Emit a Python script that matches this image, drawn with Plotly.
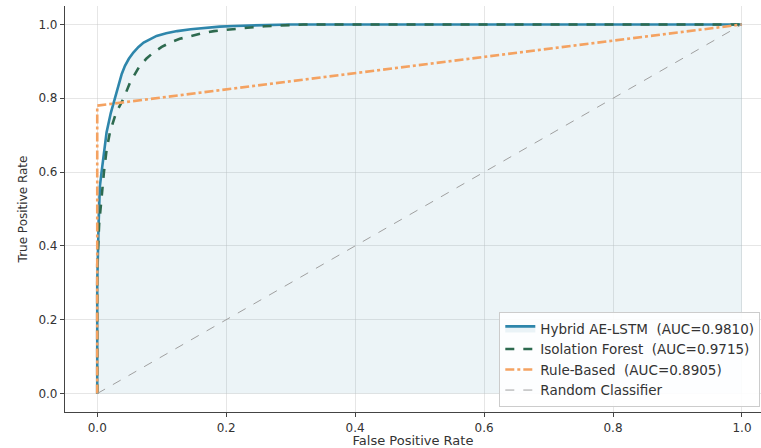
import plotly.graph_objects as go

# Hybrid AE-LSTM ROC points
hyb_fpr = [0.0, 0.0, 0.002, 0.004, 0.0067, 0.0105, 0.0145, 0.021, 0.0275, 0.034, 0.038, 0.043, 0.049, 0.056,
           0.064, 0.072, 0.082, 0.092, 0.107, 0.124, 0.145, 0.165, 0.19, 0.212, 0.25, 0.30, 0.5, 1.0]
hyb_tpr = [0.0, 0.30, 0.45, 0.56, 0.60, 0.66, 0.708, 0.76, 0.798, 0.843, 0.866, 0.888, 0.907, 0.924,
           0.939, 0.951, 0.961, 0.969, 0.976, 0.982, 0.987, 0.991, 0.994, 0.996, 0.998, 1.0, 1.0, 1.0]

# Isolation Forest ROC points
iso_fpr = [0.0, 0.0, 0.003, 0.0078, 0.0104, 0.0145, 0.0197, 0.029, 0.0405, 0.051, 0.058, 0.066, 0.076, 0.087,
           0.10, 0.113, 0.128, 0.144, 0.162, 0.181, 0.205, 0.233, 0.26, 0.32, 0.5, 1.0]
iso_tpr = [0.0, 0.35, 0.46, 0.564, 0.60, 0.66, 0.708, 0.76, 0.798, 0.843, 0.866, 0.888, 0.907, 0.924,
           0.939, 0.951, 0.961, 0.969, 0.976, 0.982, 0.987, 0.991, 0.995, 1.0, 1.0, 1.0]

# Rule-Based ROC points
rule_fpr = [0.0, 0.0, 1.0]
rule_tpr = [0.0, 0.78, 1.0]

rand_x = [0.0, 1.0]
rand_y = [0.0, 1.0]

names = ["Hybrid AE-LSTM  (AUC=0.9810)", "Isolation Forest  (AUC=0.9715)",
         "Rule-Based  (AUC=0.8905)", "Random Classifier"]
ticks = [0.0, 0.2, 0.4, 0.6, 0.8, 1.0]
tick_text = ["0.0", "0.2", "0.4", "0.6", "0.8", "1.0"]

fig = go.Figure()
fig.add_trace(go.Scatter(x=hyb_fpr, y=hyb_tpr, mode="lines", name=names[0],
                         line=dict(color="#2E86AB", width=2.6),
                         fill="tozeroy", fillcolor="rgba(46,134,171,0.09)"))
fig.add_trace(go.Scatter(x=iso_fpr, y=iso_tpr, mode="lines", name=names[1],
                         line=dict(color="#2D6A4F", width=2.6, dash="dash")))
fig.add_trace(go.Scatter(x=rule_fpr, y=rule_tpr, mode="lines", name=names[2],
                         line=dict(color="#F4A261", width=2.6, dash="dashdot")))
fig.add_trace(go.Scatter(x=rand_x, y=rand_y, mode="lines", name=names[3],
                         line=dict(color="#A0A0A0", width=1, dash="dash")))

axis_common = dict(tickvals=ticks, ticktext=tick_text, showgrid=True,
                   gridcolor="rgba(200,200,200,0.45)", gridwidth=1,
                   showline=True, linecolor="#444", linewidth=1.2,
                   ticks="outside", ticklen=4, tickcolor="#444",
                   tickfont=dict(family="DejaVu Sans", size=12, color="#333"),
                   zeroline=False)

fig.update_layout(
    width=761, height=448,
    margin=dict(l=65, r=0, t=6, b=33),
    paper_bgcolor="white", plot_bgcolor="white",
    xaxis=dict(range=[-0.05, 1.0295], title=dict(text="False Positive Rate", standoff=4,
               font=dict(family="DejaVu Sans", size=13, color="#333")), **axis_common),
    yaxis=dict(range=[-0.05, 1.05], title=dict(text="True Positive Rate", standoff=8,
               font=dict(family="DejaVu Sans", size=12, color="#333")), **axis_common),
    legend=dict(x=0.999, y=0.012, xanchor="right", yanchor="bottom",
                bgcolor="rgba(255,255,255,0.9)", bordercolor="#CCCCCC", borderwidth=1,
                font=dict(family="DejaVu Sans", size=13.5, color="#333"),
                tracegroupgap=0, itemwidth=30),
    showlegend=True,
)

fig.write_html("out.html")
